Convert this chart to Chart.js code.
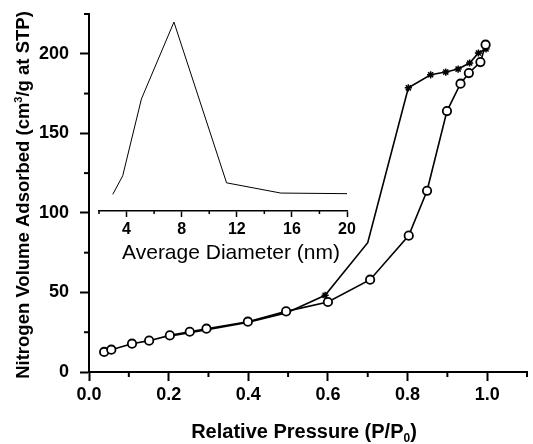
<!DOCTYPE html>
<html>
<head>
<meta charset="utf-8">
<script src="https://cdn.jsdelivr.net/npm/chart.js@4.4.1/dist/chart.umd.min.js"></script>
<style>
  html, body { margin: 0; padding: 0; background: #fff; }
  #wrap { position: relative; width: 533px; height: 444px; }
  #wrap canvas { position: absolute; left: 0; top: 0; }
</style>
</head>
<body>
<div id="wrap">
  <canvas id="main" width="533" height="444"></canvas>
  <canvas id="inset" width="360" height="270"></canvas>
</div>
<script>
// N2 isotherm, adsorption branch (open circles)
const adsP = [0.038, 0.056, 0.108, 0.151, 0.203, 0.253, 0.295, 0.399, 0.495, 0.600, 0.706, 0.803, 0.849, 0.899, 0.933, 0.954, 0.983, 0.996];
const adsV = [12.6, 14.0, 17.8, 19.7, 23.0, 25.3, 27.2, 31.6, 38.1, 44.0, 58.0, 85.7, 113.9, 164.0, 181.2, 187.9, 194.8, 205.7];
// desorption branch (stars)
const desP = [0.997, 0.978, 0.956, 0.927, 0.896, 0.858, 0.802, 0.700, 0.593, 0.497, 0.398, 0.300, 0.205];
const desV = [203.0, 200.5, 194.2, 190.4, 188.5, 186.8, 178.6, 81.3, 48.2, 37.3, 31.2, 26.8, 22.6];
// inset: pore size distribution (arbitrary units)
const poreD = [3.0, 3.72, 5.08, 7.44, 11.26, 15.2, 20.0];
const poreDist = [16.9, 35.7, 113.8, 191.8, 28.6, 18.2, 17.6];

// labelled ticks
const xLabels = ['0.0', '0.2', '0.4', '0.6', '0.8', '1.0'];
const yLabels = [0, 50, 100, 150, 200];
const insetLabels = [4, 8, 12, 16, 20];

const FONT = '"Liberation Sans", Arial, sans-serif';
Chart.defaults.color = '#000';
Chart.defaults.font.family = FONT;

function pts(xs, ys) {
  return xs.map((x, i) => ({ x: x, y: ys[i] }));
}

// short ticks for unlabelled positions
const minorTicks = {
  id: 'minorTicks',
  afterDraw(chart) {
    const ctx = chart.ctx;
    Object.values(chart.scales).forEach(scale => {
      const len = scale.options.minorLength;
      if (!len || !scale.options.display) return;
      ctx.save();
      ctx.strokeStyle = '#000';
      ctx.lineWidth = scale.options.grid.tickWidth;
      scale.ticks.forEach(t => {
        if (t.label !== '') return;
        const p = scale.getPixelForValue(t.value);
        ctx.beginPath();
        if (scale.isHorizontal()) {
          ctx.moveTo(p, scale.top);
          ctx.lineTo(p, scale.top + len);
        } else {
          ctx.moveTo(scale.right, p);
          ctx.lineTo(scale.right - len, p);
        }
        ctx.stroke();
      });
      ctx.restore();
    });
  }
};

// draws text made of plain / sub / sup pieces, centred at x
function richText(ctx, parts, x, y, size, weight) {
  const small = Math.round(size * 0.62);
  let w = 0;
  parts.forEach(p => {
    ctx.font = weight + ' ' + (p.s ? small : size) + 'px ' + FONT;
    p.w = ctx.measureText(p.t).width;
    w += p.w;
  });
  let cx = x - w / 2;
  parts.forEach(p => {
    ctx.font = weight + ' ' + (p.s ? small : size) + 'px ' + FONT;
    let dy = 0;
    if (p.s === 'sub') dy = size * 0.22;
    if (p.s === 'sup') dy = -size * 0.38;
    ctx.fillText(p.t, cx, y + dy);
    cx += p.w;
  });
}

const axisTitles = {
  id: 'axisTitles',
  afterDraw(chart) {
    const ctx = chart.ctx;
    ctx.save();
    ctx.fillStyle = '#000';
    ctx.textBaseline = 'alphabetic';
    ctx.textAlign = 'left';
    richText(ctx, [{ t: 'Relative Pressure (P/P' }, { t: '0', s: 'sub' }, { t: ')' }], 304, 438, 20, 'bold');
    ctx.translate(29, 195);
    ctx.rotate(-Math.PI / 2);
    richText(ctx, [{ t: 'Nitrogen Volume Adsorbed (cm' }, { t: '3', s: 'sup' }, { t: '/g at STP)' }], 0, 0, 18.5, 'bold');
    ctx.restore();
  }
};

new Chart(document.getElementById('main'), {
  type: 'scatter',
  data: {
    datasets: [{
      label: 'Adsorption',
      data: pts(adsP, adsV),
      showLine: true,
      borderColor: '#000',
      borderWidth: 1.6,
      pointStyle: 'circle',
      pointRadius: 4.2,
      pointBorderWidth: 1.8,
      pointBorderColor: '#000',
      pointBackgroundColor: '#fff'
    }, {
      label: 'Desorption',
      data: pts(desP, desV),
      showLine: true,
      borderColor: '#000',
      borderWidth: 1.6,
      pointStyle: 'star',
      // the hidden tail runs under the circles, the knee has no marker
      pointRadius: c => (c.raw.x < 0.55 || c.dataIndex === 7) ? 0 : 3.6,
      pointBorderWidth: 1.5,
      pointBorderColor: '#000'
    }]
  },
  options: {
    responsive: false,
    animation: false,
    layout: { padding: { top: 14, right: 1, left: 0, bottom: 0 } },
    plugins: { legend: { display: false }, tooltip: { enabled: false } },
    scales: {
      x: {
        type: 'linear', min: 0, max: 1.1,
        minorLength: 5,
        ticks: {
          stepSize: 0.1, autoSkip: false, maxRotation: 0, padding: 3,
          font: { size: 18, weight: 'bold' },
          callback: v => xLabels.includes(v.toFixed(1)) ? v.toFixed(1) : ''
        },
        grid: {
          drawOnChartArea: false, tickLength: 9, tickWidth: 2,
          tickColor: c => (c.tick && c.tick.label !== '') ? '#000' : 'rgba(0,0,0,0)'
        },
        border: { color: '#000', width: 2 },
        afterFit: s => { s.height = 72; s.paddingLeft = 0; s.paddingRight = 0; }
      },
      y: {
        type: 'linear', min: 0, max: 225,
        minorLength: 5,
        ticks: {
          stepSize: 25, autoSkip: false, padding: 11,
          font: { size: 18, weight: 'bold' },
          callback: v => yLabels.includes(Math.round(v)) ? String(Math.round(v)) : ''
        },
        grid: {
          drawOnChartArea: false, tickLength: 9, tickWidth: 2,
          tickColor: c => (c.tick && c.tick.label !== '') ? '#000' : 'rgba(0,0,0,0)'
        },
        border: { color: '#000', width: 2 },
        afterFit: s => { s.width = 89; s.paddingTop = 0; s.paddingBottom = 0; }
      }
    }
  },
  plugins: [minorTicks, axisTitles]
});

const insetTitle = {
  id: 'insetTitle',
  afterDraw(chart) {
    const ctx = chart.ctx;
    ctx.save();
    ctx.fillStyle = '#000';
    ctx.textBaseline = 'alphabetic';
    ctx.textAlign = 'left';
    richText(ctx, [{ t: 'Average Diameter (nm)' }], 231, 259, 21, 'normal');
    ctx.restore();
  }
};

new Chart(document.getElementById('inset'), {
  type: 'scatter',
  data: {
    datasets: [{
      label: 'Pore size',
      data: pts(poreD, poreDist),
      showLine: true,
      borderColor: '#000',
      borderWidth: 1,
      pointRadius: 0
    }]
  },
  options: {
    responsive: false,
    animation: false,
    layout: { padding: { top: 14, right: 13, left: 99, bottom: 0 } },
    plugins: { legend: { display: false }, tooltip: { enabled: false } },
    scales: {
      x: {
        type: 'linear', min: 2, max: 20,
        minorLength: 3,
        ticks: {
          stepSize: 2, autoSkip: false, maxRotation: 0, padding: 3,
          font: { size: 16, weight: 'bold' },
          callback: v => insetLabels.includes(Math.round(v)) ? String(Math.round(v)) : ''
        },
        grid: {
          drawOnChartArea: false, tickLength: 6, tickWidth: 1.5,
          tickColor: c => (c.tick && c.tick.label !== '') ? '#000' : 'rgba(0,0,0,0)'
        },
        border: { color: '#000', width: 1.5 },
        afterFit: s => { s.height = 59; }
      },
      y: { display: false, min: 0, max: 200 }
    }
  },
  plugins: [minorTicks, insetTitle]
});
</script>
</body>
</html>
